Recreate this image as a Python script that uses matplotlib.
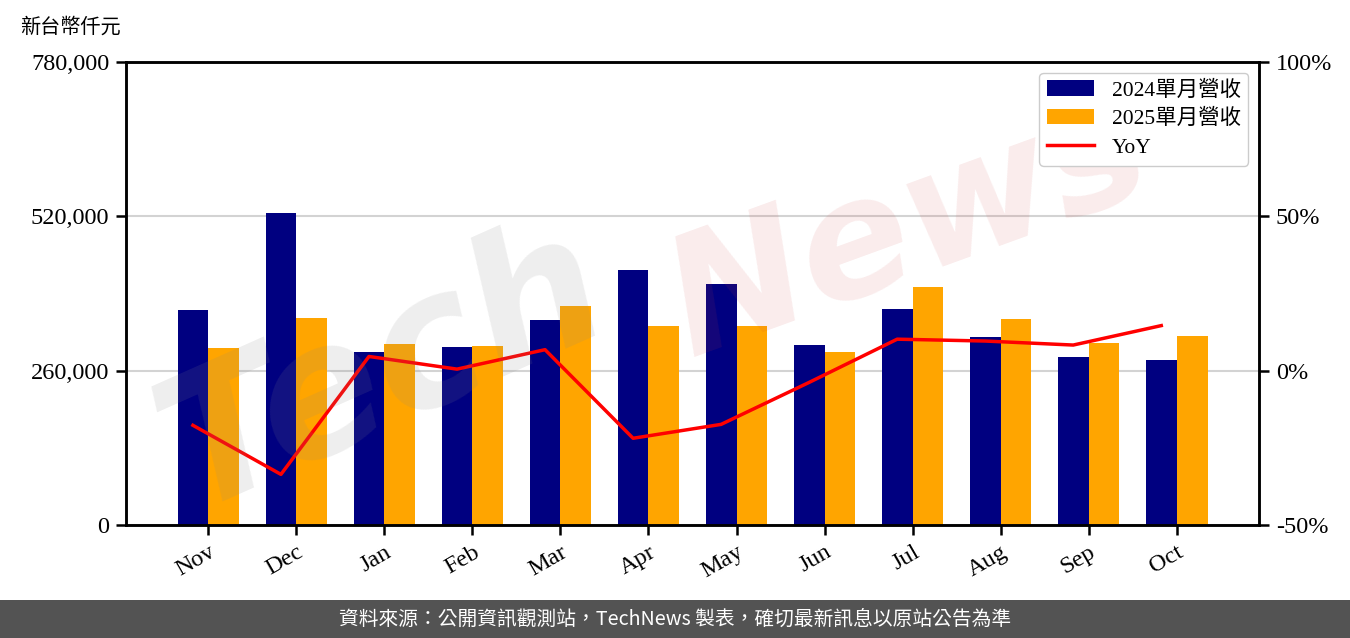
import matplotlib
matplotlib.use('Agg')
import matplotlib.pyplot as plt
from matplotlib.patches import Rectangle
from matplotlib.ticker import FuncFormatter, FixedLocator
import numpy as np

# data (NT$ thousand)
months = ['Nov', 'Dec', 'Jan', 'Feb', 'Mar', 'Apr', 'May', 'Jun', 'Jul', 'Aug', 'Sep', 'Oct']
rev_2024 = [362000, 525500, 291500, 300000, 345500, 429500, 406000, 303000, 364000, 316500, 283000, 278000]
rev_2025 = [298000, 348500, 305000, 301500, 369000, 335500, 335500, 291500, 401000, 347000, 306500, 318500]
yoy = [-17.7, -33.6, 4.6, 0.5, 6.8, -21.9, -17.4, -3.8, 10.2, 9.6, 8.3, 14.6]

lbl_2024 = '2024單月營收'
lbl_2025 = '2025單月營收'
lbl_yoy = 'YoY'
unit_txt = '新台幣仟元'
source_txt = '資料來源：公開資訊觀測站，TechNews 製表，確切最新訊息以原站公告為準'

serif = ['Liberation Serif', 'Noto Sans CJK TC', 'DejaVu Sans']
sans = ['Noto Sans CJK TC', 'DejaVu Sans']
plt.rcParams['font.family'] = serif

fig = plt.figure(figsize=(13.5, 6.38), dpi=100)
ax1 = fig.add_axes([126/1350, 1-525/638, (1259-126)/1350, (525-62)/638])
ax2 = ax1.twinx()

x = np.arange(len(months))
w = 0.35
ax1.bar(x - w/2, rev_2024, w, color='#000080', label=lbl_2024, zorder=2)
ax1.bar(x + w/2, rev_2025, w, color='#FFA500', label=lbl_2025, zorder=2)
ax2.plot(x - w/2, yoy, color='red', linewidth=2.5, label=lbl_yoy, zorder=3)

ax1.set_ylim(0, 780000)
ax1.yaxis.set_major_locator(FixedLocator([0, 260000, 520000, 780000]))
ax1.yaxis.set_major_formatter(FuncFormatter(lambda v, p: '{:,.0f}'.format(v)))
ax1.grid(axis='y', color='#d3d3d3', linewidth=1.5, zorder=0)
ax1.set_axisbelow(True)

ax2.set_ylim(-50, 100)
ax2.yaxis.set_major_locator(FixedLocator([-50, 0, 50, 100]))
ax2.yaxis.set_major_formatter(FuncFormatter(lambda v, p: '{:.0f}%'.format(v)))

ax1.set_xticks(x)
ax1.set_xticklabels(months, rotation=30, ha='right', rotation_mode='anchor')

for a in (ax1, ax2):
	for s in a.spines.values():
		s.set_linewidth(1.8)
	a.tick_params(width=1.8, length=7, labelsize=17.5, pad=5)

h1, l1 = ax1.get_legend_handles_labels()
h2, l2 = ax2.get_legend_handles_labels()
leg = ax2.legend(h1 + h2, l1 + l2, loc='upper right', fontsize=15.5, framealpha=1,
	edgecolor='#cccccc', handlelength=2.2, borderpad=0.35, labelspacing=0.4)
leg.set_zorder(6)

fig.text(20/1350, 1-27/638, unit_txt, fontsize=14.5, va='center', ha='left', family=sans)

# watermark (under the legend)
ax2.text(0.10, 0.42, 'Tech', transform=fig.transFigure, fontsize=132, rotation=24,
	color='#888888', alpha=0.14, family='DejaVu Sans', weight='bold', style='italic',
	va='center', zorder=4)
ax2.text(0.48, 0.64, 'News', transform=fig.transFigure, fontsize=118, rotation=20,
	color='#d04040', alpha=0.10, family='DejaVu Sans', weight='bold', style='italic',
	va='center', zorder=4)

# bottom banner
fig.patches.append(Rectangle((0, 0), 1, 38/638, transform=fig.transFigure,
	facecolor='#535353', edgecolor='none', zorder=0))
fig.text(0.5, 19/638, source_txt, color='white', fontsize=14.2, ha='center', va='center', family=sans)

fig.savefig('out.png', dpi=100)
